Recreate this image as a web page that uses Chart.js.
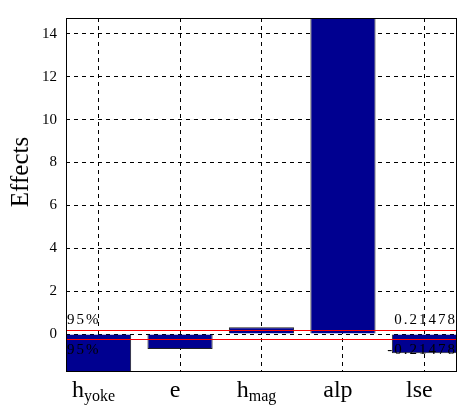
<!DOCTYPE html>
<html>
<head>
<meta charset="utf-8">
<script src="https://cdn.jsdelivr.net/npm/chart.js@4.4.0/dist/chart.umd.min.js"></script>
<style>
  body { margin: 0; background: #fff; }
  canvas { display: block; }
</style>
</head>
<body>
<canvas id="effectsChart" width="458" height="405"></canvas>
<script>
// factor names, split into main text and subscript
var labelMain = ['h', 'e', 'h', 'alp', 'lse'];
var labelSub = ['yoke', '', 'mag', '', ''];
// estimated effects (h_yoke and alp run off the axes)
var effects = [-2.0, -0.69, 0.32, 15.5, -0.89];
var threshold = 0.21478;
var yTicks = [0, 2, 4, 6, 8, 10, 12, 14];

var serif = "'Liberation Serif', 'Times New Roman', serif";

var points = effects.map(function (v, i) { return { x: i + 1, y: v }; });

// red 95% lines, texts, box and subscripted labels
var overlay = {
  id: 'overlay',
  afterDatasetsDraw: function (chart) {
    var ctx = chart.ctx;
    var area = chart.chartArea;
    var y = chart.scales.y;
    var x = chart.scales.x;
    var up = Math.round(y.getPixelForValue(threshold)) + 0.5;
    var down = Math.round(y.getPixelForValue(-threshold)) + 0.5;

    ctx.save();
    ctx.strokeStyle = '#ff0000';
    ctx.lineWidth = 1;
    ctx.beginPath();
    ctx.moveTo(area.left, up); ctx.lineTo(area.right, up);
    ctx.moveTo(area.left, down); ctx.lineTo(area.right, down);
    ctx.stroke();

    ctx.fillStyle = '#000';
    ctx.font = '15px ' + serif;
    ctx.letterSpacing = '2px';
    ctx.textBaseline = 'alphabetic';
    ctx.textAlign = 'left';
    ctx.fillText('95%', area.left + 1, up - 7);
    ctx.fillText('95%', area.left + 1, down + 14);
    ctx.textAlign = 'right';
    ctx.fillText(threshold.toString(), area.right, up - 7);
    ctx.fillText('-' + threshold.toString(), area.right, down + 14);
    ctx.letterSpacing = '0px';

    // axes box
    ctx.strokeStyle = '#000';
    ctx.strokeRect(Math.round(area.left) + 0.5, Math.round(area.top) + 0.5,
      Math.round(area.right - area.left) - 1, Math.round(area.bottom - area.top));

    // x labels with subscripts (sit a little left of the ticks, as in the original)
    ctx.textAlign = 'left';
    for (var i = 0; i < labelMain.length; i++) {
      var cx = x.getPixelForValue(i + 1) - 5;
      ctx.font = '24px ' + serif;
      var wMain = ctx.measureText(labelMain[i]).width;
      ctx.font = '16px ' + serif;
      var wSub = labelSub[i] ? ctx.measureText(labelSub[i]).width : 0;
      var start = cx - (wMain + wSub) / 2;
      ctx.font = '24px ' + serif;
      ctx.fillText(labelMain[i], start, 397);
      if (labelSub[i]) {
        ctx.font = '16px ' + serif;
        ctx.fillText(labelSub[i], start + wMain, 401);
      }
    }

    // y label
    ctx.translate(28, 172);
    ctx.rotate(-Math.PI / 2);
    ctx.textAlign = 'center';
    ctx.textBaseline = 'alphabetic';
    ctx.font = '25px ' + serif;
    ctx.fillText('Effects', 0, 0);
    ctx.restore();
  }
};

var ctx = document.getElementById('effectsChart').getContext('2d');
var chart = new Chart(ctx, {
  type: 'bar',
  data: {
    datasets: [{
      data: points,
      backgroundColor: '#000090',
      borderColor: '#222222',
      borderWidth: 1,
      barPercentage: 0.8,
      categoryPercentage: 1.0
    }]
  },
  options: {
    responsive: false,
    animation: false,
    layout: { padding: { top: 7, right: 1, left: 0, bottom: 0 } },
    plugins: {
      legend: { display: false },
      tooltip: { enabled: false }
    },
    scales: {
      x: {
        type: 'linear',
        min: 0.6,
        max: 5.4,
        offset: false,
        afterFit: function (scale) { scale.height = 34; },
        ticks: { stepSize: 1, includeBounds: false, display: false },
        grid: { color: '#000', lineWidth: 1, drawTicks: false, offset: false },
        border: { display: false, dash: [4, 4] }
      },
      y: {
        min: -1.72,
        max: 14.74,
        afterFit: function (scale) { scale.width = 66; },
        afterBuildTicks: function (scale) {
          scale.ticks = yTicks.map(function (v) { return { value: v }; });
        },
        ticks: {
          padding: 9,
          color: '#000',
          font: { family: serif, size: 15 }
        },
        grid: { color: '#000', lineWidth: 1, drawTicks: false },
        border: { display: false, dash: [4, 4] }
      }
    }
  },
  plugins: [overlay]
});
</script>
</body>
</html>
